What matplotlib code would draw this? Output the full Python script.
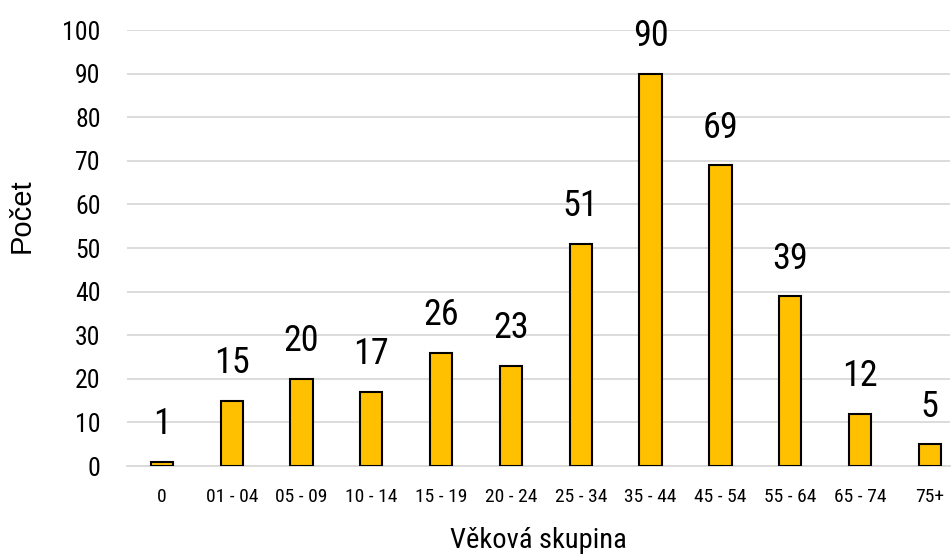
import matplotlib
matplotlib.use("Agg")
import matplotlib.pyplot as plt
from matplotlib import font_manager
import numpy as np

categories = ["0", "01 - 04", "05 - 09", "10 - 14", "15 - 19", "20 - 24",
              "25 - 34", "35 - 44", "45 - 54", "55 - 64", "65 - 74", "75+"]
counts = [1, 15, 20, 17, 26, 23, 51, 90, 69, 39, 12, 5]
yticks = list(range(0, 101, 10))

# pick a narrow font if one is around
names = {f.name for f in font_manager.fontManager.ttflist}
narrow = dict(family="DejaVu Sans", stretch="condensed")
for cand in ["Roboto Condensed", "Liberation Sans Narrow", "Open Sans Condensed",
             "Noto Sans Condensed"]:
    if cand in names:
        narrow = dict(family=cand)
        break
plain = dict(family="Liberation Sans")

fig = plt.figure(figsize=(9.51, 5.56), dpi=100)
ax = fig.add_axes([127 / 951, 1 - 466 / 556, (950 - 127) / 951, (466 - 30) / 556])

x = np.arange(len(categories))
ax.bar(x, counts, width=0.32, color="#FFC000", edgecolor="black",
       linewidth=1.5, zorder=3)

for xi, v in zip(x, counts):
    ax.annotate(str(v), (xi, v), xytext=(0, 14), textcoords="offset points",
                ha="center", va="bottom", fontsize=26, **narrow)

ax.set_xlim(-0.5, 11.29)
ax.set_ylim(0, 100)
ax.set_yticks(yticks)
ax.set_xticks(x)
ax.set_xticklabels(categories, fontsize=14, **narrow)
ax.set_yticklabels([str(t) for t in yticks], fontsize=18.5, **narrow)
ax.tick_params(axis="both", length=0)
ax.tick_params(axis="x", pad=16)
ax.tick_params(axis="y", pad=19)

ax.grid(axis="y", color="#d9d9d9", linewidth=1.3, zorder=0)
for s in ["top", "right", "left"]:
    ax.spines[s].set_visible(False)
ax.spines["bottom"].set_color("#d9d9d9")
ax.spines["bottom"].set_linewidth(1.3)

ax.set_xlabel("Věková skupina", fontsize=20.5, **narrow)
ax.set_ylabel("Počet", fontsize=21, **plain)
ax.xaxis.set_label_coords(0.5, -(541 - 466) / (466 - 30))
ax.yaxis.set_label_coords(-(127 - 22) / (950 - 127), (466 - 216) / (466 - 30))
ax.xaxis.label.set_va("center")
ax.yaxis.label.set_va("center")

fig.savefig("out.png", dpi=100)
